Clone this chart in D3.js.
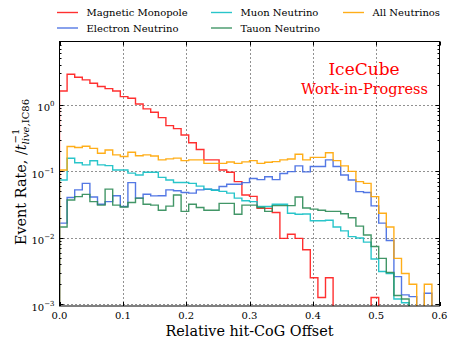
<!DOCTYPE html>
<html>
<head>
<meta charset="utf-8">
<script src="https://cdn.jsdelivr.net/npm/d3@7/dist/d3.min.js"></script>
<style>
  body { margin: 0; background: #fff; }
  svg { display: block; font-family: 'DejaVu Serif', serif; }
</style>
</head>
<body>
<svg id="chart" width="449" height="338"></svg>
<script>
// histogram range, 50 equal bins
const binRange = [0, 0.6];

const seriesNames = ['Magnetic Monopole', 'Electron Neutrino', 'Muon Neutrino', 'Tauon Neutrino', 'All Neutrinos'];
const seriesColors = ['#ff1a1a', '#4169e1', '#12bfc4', '#2e8b57', '#ffa500'];

const monopole = [1.62, 2.9, 2.61, 2.38, 2.12, 1.89, 1.76, 1.62, 1.33, 1.26,
  1.03, 0.87, 0.776, 0.644, 0.488, 0.44, 0.353, 0.27, 0.213, 0.149,
  0.149, 0.105, 0.097, 0.07, 0.044, 0.042, 0.0277, 0.0277, 0.024, 0.0098,
  0.0113, 0.0098, 0.0066, 0.0025, 0.00126, 0.0025, 0, 0, 0, 0,
  0, 0.00126, 0, 0, 0, 0, 0, 0, 0, 0];
const electron = [0.0166, 0.0403, 0.0526, 0.066, 0.041, 0.032, 0.035, 0.043, 0.0295, 0.0677,
  0.0395, 0.0452, 0.0427, 0.043, 0.0526, 0.051, 0.048, 0.047, 0.0526, 0.0537,
  0.0526, 0.059, 0.064, 0.064, 0.0677, 0.078, 0.075, 0.083, 0.075, 0.093,
  0.099, 0.121, 0.098, 0.118, 0.118, 0.149, 0.118, 0.088, 0.074, 0.0495,
  0.048, 0.0302, 0.0166, 0.0091, 0.0026, 0.00138, 0.0013, 0, 0.00146, 0];
const muon = [0.074, 0.157, 0.135, 0.125, 0.144, 0.125, 0.122, 0.105, 0.105, 0.094,
  0.088, 0.097, 0.097, 0.081, 0.074, 0.068, 0.068, 0.066, 0.06, 0.054,
  0.052, 0.05, 0.047, 0.0395, 0.036, 0.035, 0.0295, 0.0295, 0.032, 0.032,
  0.0234, 0.0226, 0.0228, 0.018, 0.018, 0.0184, 0.0145, 0.0127, 0.0104, 0.0099,
  0.0086, 0.0048, 0.0031, 0.0029, 0.0012, 0.00105, 0, 0, 0, 0];
const tau = [0.0145, 0.037, 0.0417, 0.045, 0.035, 0.031, 0.054, 0.031, 0.029, 0.034,
  0.0395, 0.032, 0.031, 0.026, 0.03, 0.044, 0.025, 0.032, 0.0286, 0.026,
  0.026, 0.033, 0.033, 0.0226, 0.031, 0.031, 0.0286, 0.025, 0.0305, 0.0305,
  0.0305, 0.041, 0.028, 0.027, 0.026, 0.025, 0.025, 0.023, 0.02, 0.015,
  0.011, 0.0074, 0.0049, 0.003, 0.00135, 0.0012, 0, 0, 0, 0];
const allNu = [0.105, 0.236, 0.228, 0.239, 0.222, 0.187, 0.21, 0.177, 0.167, 0.194,
  0.172, 0.177, 0.17, 0.149, 0.154, 0.158, 0.145, 0.149, 0.149, 0.132,
  0.132, 0.132, 0.138, 0.132, 0.139, 0.145, 0.132, 0.137, 0.14, 0.149,
  0.153, 0.181, 0.149, 0.162, 0.162, 0.19, 0.145, 0.121, 0.1, 0.07,
  0.066, 0.0417, 0.0234, 0.0145, 0.0049, 0.0029, 0.002, 0, 0.002, 0];

const xTicks = [0, 0.1, 0.2, 0.3, 0.4, 0.5, 0.6];
const xTickLabels = ['0.0', '0.1', '0.2', '0.3', '0.4', '0.5', '0.6'];
const yTicks = [1, 0.1, 0.01, 0.001];
const yTickExponents = ['0', '\u22121', '\u22122', '\u22123'];
const yDomain = [9.4e-4, 9.0];

const series = [monopole, electron, muon, tau, allNu];

const plotL = 59.5, plotR = 439.5, plotT = 41.5, plotB = 306;

const svg = d3.select('#chart');
const x = d3.scaleLinear().domain(binRange).range([plotL, plotR]);
const y = d3.scaleLog().domain(yDomain).range([plotB, plotT]);

svg.append('defs').append('clipPath').attr('id', 'plot-clip')
  .append('rect').attr('x', plotL).attr('y', plotT).attr('width', plotR - plotL).attr('height', plotB - plotT);

// grid
const grid = svg.append('g').attr('stroke', '#222').attr('stroke-width', 1).attr('stroke-dasharray', '1,3');
grid.selectAll('line.gx').data(xTicks.slice(1, -1)).join('line')
  .attr('x1', d => Math.round(x(d)) + 0.5).attr('x2', d => Math.round(x(d)) + 0.5)
  .attr('y1', plotT).attr('y2', plotB);
grid.selectAll('line.gy').data(yTicks).join('line')
  .attr('x1', plotL).attr('x2', plotR)
  .attr('y1', d => Math.round(y(d)) + 0.5).attr('y2', d => Math.round(y(d)) + 0.5);

// step histograms
const stepPoints = (vals) => {
  const n = vals.length;
  const edge = (i) => binRange[0] + i * (binRange[1] - binRange[0]) / n;
  const yy = (v) => y(Math.max(v, 1e-6));
  const pts = [[x(edge(0)), yy(0)]];
  vals.forEach((v, i) => {
    pts.push([x(edge(i)), yy(v)]);
    pts.push([x(edge(i + 1)), yy(v)]);
  });
  pts.push([x(edge(n)), yy(0)]);
  return pts;
};

svg.append('g').attr('clip-path', 'url(#plot-clip)')
  .selectAll('path').data(series).join('path')
  .attr('d', d => d3.line()(stepPoints(d)))
  .attr('fill', 'none')
  .attr('stroke', (d, i) => seriesColors[i])
  .attr('stroke-width', 1.4)
  .attr('stroke-opacity', 0.9);

// frame
svg.append('rect').attr('x', plotL).attr('y', plotT).attr('width', plotR - plotL).attr('height', plotB - plotT)
  .attr('fill', 'none').attr('stroke', '#000').attr('stroke-width', 1);

// ticks, inward on all sides
const ticks = svg.append('g').attr('stroke', '#000').attr('stroke-width', 1);
xTicks.forEach(t => {
  const px = Math.round(x(t)) + 0.5;
  ticks.append('line').attr('x1', px).attr('x2', px).attr('y1', plotB).attr('y2', plotB - 4);
  ticks.append('line').attr('x1', px).attr('x2', px).attr('y1', plotT).attr('y2', plotT + 4);
});
const minor = [];
for (let e = -4; e <= 0; e++) {
  for (let m = 2; m <= 9; m++) {
    const v = m * Math.pow(10, e);
    if (v > yDomain[0] && v < yDomain[1]) minor.push(v);
  }
}
yTicks.forEach(t => {
  const py = Math.round(y(t)) + 0.5;
  ticks.append('line').attr('x1', plotL).attr('x2', plotL + 4).attr('y1', py).attr('y2', py);
  ticks.append('line').attr('x1', plotR).attr('x2', plotR - 4).attr('y1', py).attr('y2', py);
});
minor.forEach(t => {
  const py = Math.round(y(t)) + 0.5;
  ticks.append('line').attr('x1', plotL).attr('x2', plotL + 2).attr('y1', py).attr('y2', py);
  ticks.append('line').attr('x1', plotR).attr('x2', plotR - 2).attr('y1', py).attr('y2', py);
});

// tick labels
svg.append('g').selectAll('text').data(xTicks).join('text')
  .attr('x', d => x(d)).attr('y', plotB + 12.5)
  .attr('text-anchor', 'middle').attr('font-size', 10).attr('fill', '#000')
  .text((d, i) => xTickLabels[i]);

const yl = svg.append('g').selectAll('text').data(yTicks).join('text')
  .attr('x', plotL - 5).attr('y', d => y(d) + 6.5)
  .attr('text-anchor', 'end').attr('font-size', 10).attr('fill', '#000');
yl.append('tspan').text('10');
yl.append('tspan').attr('font-size', 7).attr('dy', -5).text((d, i) => yTickExponents[i]);

// axis labels
svg.append('text').attr('x', (plotL + plotR) / 2).attr('y', 336)
  .attr('text-anchor', 'middle').attr('font-size', 14.4).text('Relative hit-CoG Offset');

const ylab = svg.append('g');
let cx = 0;
const piece = (txt, size, style, dy) => {
  const t = ylab.append('text').attr('x', cx).attr('y', dy)
    .attr('font-size', size).attr('font-style', style).text(txt);
  const w = t.node().getComputedTextLength();
  cx += w;
  return w;
};
piece('Event Rate, /', 14.4, 'normal', 0);
piece('t', 14.4, 'italic', 0);
const subStart = cx;
piece('live,', 10, 'italic', 3.5);
piece('IC86', 10, 'normal', 3.5);
const subEnd = cx;
cx = subStart + 1;
piece('\u22121', 10, 'normal', -6.5);
const total = Math.max(subEnd, cx);
ylab.attr('transform', `translate(25.5, ${172 + total / 2}) rotate(-90)`);

// legend above plot
const legendCols = [57, 211, 343];
seriesNames.forEach((name, i) => {
  const col = Math.floor(i / 2), row = i % 2;
  const lx = legendCols[col], ly = 12.5 + row * 15.5;
  const g = svg.append('g');
  g.append('line').attr('x1', lx).attr('x2', lx + 21).attr('y1', ly).attr('y2', ly)
    .attr('stroke', seriesColors[i]).attr('stroke-width', 1.4).attr('stroke-opacity', 0.9);
  g.append('text').attr('x', lx + 29.5).attr('y', ly + 3.6).attr('font-size', 10).text(name);
});

// watermark
svg.append('text').attr('x', 364).attr('y', 75).attr('text-anchor', 'middle')
  .attr('font-size', 17).attr('fill', '#ff0000').text('IceCube');
svg.append('text').attr('x', 364.5).attr('y', 94).attr('text-anchor', 'middle')
  .attr('font-size', 14.5).attr('fill', '#ff0000').text('Work-in-Progress');
</script>
</body>
</html>
